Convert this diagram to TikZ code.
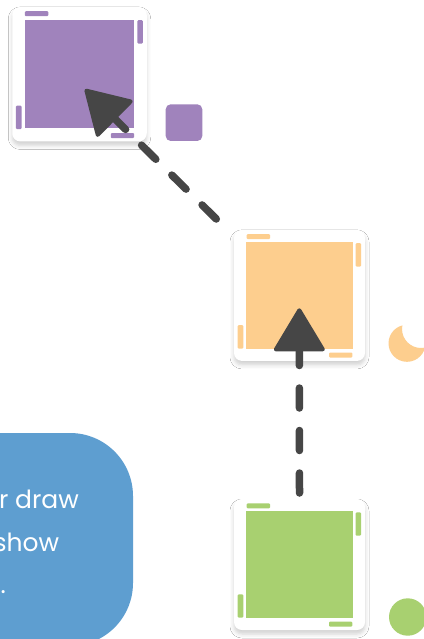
\documentclass[tikz,border=0pt]{standalone}
\usepackage{fontspec}
\setmainfont{Poppins}
\usetikzlibrary{arrows.meta,calc,shadows.blur}
\definecolor{cpurple}{HTML}{A083BC}
\definecolor{corange}{HTML}{FDCE8E}
\definecolor{cgreen}{HTML}{A8D070}
\definecolor{cblue}{HTML}{5E9ED0}
\definecolor{cdark}{HTML}{464646}
\tikzset{
  card/.style={fill=white, rounded corners=8pt, minimum width=#1, minimum height=#1,
    inner sep=0pt, outer sep=0pt,
    blur shadow={shadow xshift=0pt, shadow yshift=-4pt, shadow blur radius=4pt, shadow opacity=18}},
  innersq/.style={minimum width=#1, minimum height=#1, inner sep=0pt, outer sep=0pt},
  conn/.style={draw=cdark, line width=7.5pt, line cap=round, dash pattern=on 20pt off 22.5pt,
    -{Triangle[length=45pt,width=53pt,line width=4pt,round]}},
  blobtext/.style={text=white, font=\fontsize{25}{30}\selectfont, anchor=base east, inner sep=0pt}
}
\newcommand\cardbars[2]{%
  \fill[#2, rounded corners=1pt] ($(#1.north west)+(12.7,4.3)$) rectangle ($(#1.north west)+(36,9.3)$);
  \fill[#2, rounded corners=1pt] ($(#1.north east)+(-9.3,13.3)$) rectangle ($(#1.north east)+(-4,36.7)$);
  \fill[#2, rounded corners=1pt] ($(#1.south west)+(3.7,-35.7)$) rectangle ($(#1.south west)+(9.3,-12.4)$);
  \fill[#2, rounded corners=1pt] ($(#1.south east)+(-36,-8.4)$) rectangle ($(#1.south east)+(-12.7,-3.4)$);
}
\begin{document}
\begin{tikzpicture}[x=1pt,y=-1pt]
\useasboundingbox (0,0) rectangle (423,639);
\fill[white] (0,0) rectangle (423,639);

% blue blob with text
\node (blob) [fill=cblue, rounded corners=63pt, minimum width=233pt, minimum height=213pt, inner sep=0pt] at (16.5,539.5) {};
\node (t1) [blobtext] at (79,508) {r draw};
\node (t2) [blobtext] at (59.3,551) {show};
\node (t3) [blobtext] at (6,593) {.};

% cards
\node (P) [card=134.5pt] at (79.5,74.2) {};
\node (Pi) [innersq=108.5pt, fill=cpurple] at (P.center) {};
\cardbars{P}{cpurple}

\node (O) [card=131pt] at (299.5,295.4) {};
\node (Oi) [innersq=106.3pt, fill=corange] at (O.center) {};
\cardbars{O}{corange}

\node (G) [card=131pt] at (299.5,564.5) {};
\node (Gi) [innersq=106.3pt, fill=cgreen] at (G.center) {};
\cardbars{G}{cgreen}

% small markers
\fill[cpurple, rounded corners=5pt] (165.7,104.3) rectangle (202.3,141);
\begin{scope}[even odd rule]
  \clip (380,300) rectangle (440,380) (421,329) circle[radius=19pt];
  \fill[corange] (407,343.3) circle[radius=18.5pt];
\end{scope}
\fill[cgreen] (407.7,617) circle[radius=18.7pt];

% connectors
\coordinate (s1) at ($(G.north)+(0,-6)$);
\coordinate (e1) at (299.3,308.3);
\coordinate (s2) at (216.3,219);
\coordinate (e2) at (85,89.3);
\draw[conn] (s1) -- (e1);
\draw[conn] (s2) -- (e2);
\end{tikzpicture}
\end{document}
